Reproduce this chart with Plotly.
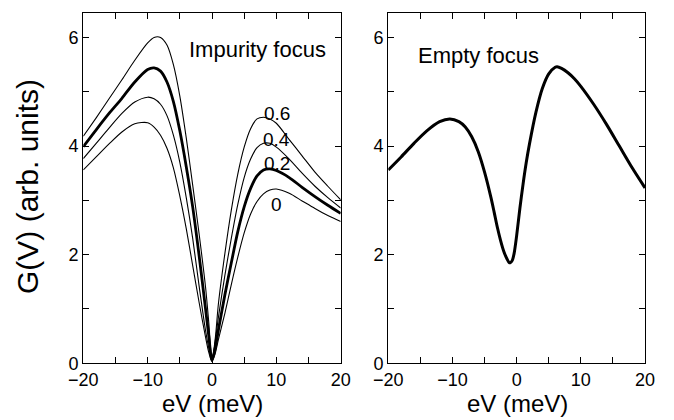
import plotly.graph_objects as go

# ---- data ----
ev = [-20, -18, -16, -14, -12, -10, -9, -8, -7, -6, -5, -4, -3, -2, -1, -0.5, 0,
      0.5, 1, 2, 3, 4, 5, 6, 7, 8, 9, 10, 12, 14, 16, 18, 20]

g_06 = [4.18, 4.52, 4.87, 5.22, 5.58, 5.90, 6.00, 6.00, 5.86, 5.50, 4.92, 4.15, 3.28,
        2.38, 1.40, 0.75, 0.06, 0.45, 1.10, 2.02, 2.82, 3.48, 3.98, 4.32, 4.50, 4.53,
        4.50, 4.42, 4.12, 3.82, 3.52, 3.26, 3.01]
g_04 = [3.77, 4.05, 4.33, 4.60, 4.81, 4.90, 4.87, 4.77, 4.56, 4.20, 3.70, 3.05, 2.30,
        1.42, 0.60, 0.28, 0.04, 0.40, 0.85, 1.62, 2.30, 2.92, 3.42, 3.76, 3.97, 4.05,
        4.05, 3.98, 3.76, 3.50, 3.26, 3.05, 2.86]
g_02 = [3.99, 4.30, 4.60, 4.88, 5.18, 5.41, 5.44, 5.38, 5.18, 4.82, 4.28, 3.62, 2.88,
        1.98, 1.00, 0.50, 0.06, 0.28, 0.62, 1.26, 1.85, 2.42, 2.88, 3.22, 3.45, 3.56,
        3.58, 3.55, 3.42, 3.24, 3.07, 2.91, 2.76]
g_00 = [3.56, 3.80, 4.04, 4.26, 4.41, 4.43, 4.35, 4.20, 3.96, 3.60, 3.08, 2.48, 1.80,
        1.12, 0.48, 0.20, 0.03, 0.18, 0.44, 0.92, 1.45, 1.95, 2.40, 2.75, 2.98, 3.12,
        3.19, 3.21, 3.13, 2.99, 2.85, 2.72, 2.61]

ev_empty = [-20, -18, -16, -14, -12, -10.4, -9, -8, -7, -6, -5, -4, -3.5, -3, -2.5, -2,
            -1.5, -1.2, -1.0, -0.7, -0.4, 0, 0.5, 1, 1.5, 2, 3, 4, 5, 6, 6.3, 7, 8, 9, 10,
            12, 14, 16, 18, 20]
g_empty = [3.56, 3.80, 4.05, 4.28, 4.45, 4.50, 4.45, 4.35, 4.17, 3.90, 3.52, 3.05, 2.78,
           2.50, 2.26, 2.06, 1.92, 1.86, 1.85, 1.89, 2.02, 2.35, 2.85, 3.30, 3.70, 4.04,
           4.62, 5.06, 5.33, 5.45, 5.46, 5.43, 5.35, 5.24, 5.10, 4.77, 4.40, 4.00, 3.60,
           3.23]

curve_labels = ["0.6", "0.4", "0.2", "0"]
label_y = [4.60, 4.12, 3.67, 2.92]
label_x = 10.1

x_ticks = [-20, -15, -10, -5, 0, 5, 10, 15, 20]
x_ticktext = ["\u221220", "", "\u221210", "", "0", "", "10", "", "20"]
y_ticks = [0, 1, 2, 3, 4, 5, 6]
y_ticktext = ["0", "", "2", "", "4", "", "6"]

FONT = "Liberation Sans, Arial, Helvetica, sans-serif"

fig = go.Figure()
imp_series = [(g_06, 1.1), (g_04, 1.1), (g_02, 2.8), (g_00, 1.1)]
for ys, w in imp_series:
    fig.add_trace(go.Scatter(x=ev, y=ys, mode="lines", xaxis="x", yaxis="y",
                             line=dict(color="black", width=w, shape="spline", smoothing=0.8),
                             showlegend=False, hoverinfo="skip"))
fig.add_trace(go.Scatter(x=ev_empty, y=g_empty, mode="lines", xaxis="x2", yaxis="y2",
                         line=dict(color="black", width=3, shape="spline", smoothing=0.8),
                         showlegend=False, hoverinfo="skip"))

# page body has an 8px default margin: lay out in screen pixels, shifted by OFF
OFF = 8
W, H = 674 - OFF, 420 - OFF


def fx(px):
    return (px - OFF) / W


def fy(py):
    return 1 - (py - OFF) / H


axis_common = dict(showline=True, linecolor="black", linewidth=1.3, mirror="allticks",
                   ticks="inside", ticklen=6, tickwidth=1.1, tickcolor="black",
                   showgrid=False, zeroline=False, automargin=False,
                   tickfont=dict(family=FONT, size=18, color="black"))
fig.update_layout(
    width=W, height=H, margin=dict(l=0, r=0, t=0, b=0, autoexpand=False),
    paper_bgcolor="white", plot_bgcolor="white",
    xaxis=dict(domain=[fx(83.3), fx(340.7)], range=[-20, 20], tickvals=x_ticks,
               ticktext=x_ticktext, anchor="y", **axis_common),
    yaxis=dict(domain=[fy(363.3), fy(13)], range=[0, 6.45], tickvals=y_ticks,
               ticktext=y_ticktext, anchor="x", **axis_common),
    xaxis2=dict(domain=[fx(388.3), fx(645)], range=[-20, 20], tickvals=x_ticks,
                ticktext=x_ticktext, anchor="y2", **axis_common),
    yaxis2=dict(domain=[fy(363.3), fy(13)], range=[0, 6.45], tickvals=y_ticks,
                ticktext=y_ticktext, anchor="x2", **axis_common),
)


def paper_text(text, px, py, size, angle=0):
    return dict(text=text, x=fx(px), y=fy(py), xref="paper", yref="paper",
                xanchor="center", yanchor="middle", showarrow=False, textangle=angle,
                font=dict(family=FONT, size=size, color="black"))


ann = [
    paper_text("Impurity focus", 258, 50, 22),
    paper_text("Empty focus", 478, 55, 22),
    paper_text("eV (meV)", 212, 403, 24),
    paper_text("eV (meV)", 517, 403, 24),
    paper_text("G(V) (arb. units)", 28, 187, 30, angle=-90),
]
for t, yy in zip(curve_labels, label_y):
    ann.append(dict(text=t, x=label_x, y=yy, xref="x", yref="y", showarrow=False,
                    xanchor="center", yanchor="middle",
                    font=dict(family=FONT, size=19, color="black")))
fig.update_layout(annotations=ann)

fig.write_html("out.html")
